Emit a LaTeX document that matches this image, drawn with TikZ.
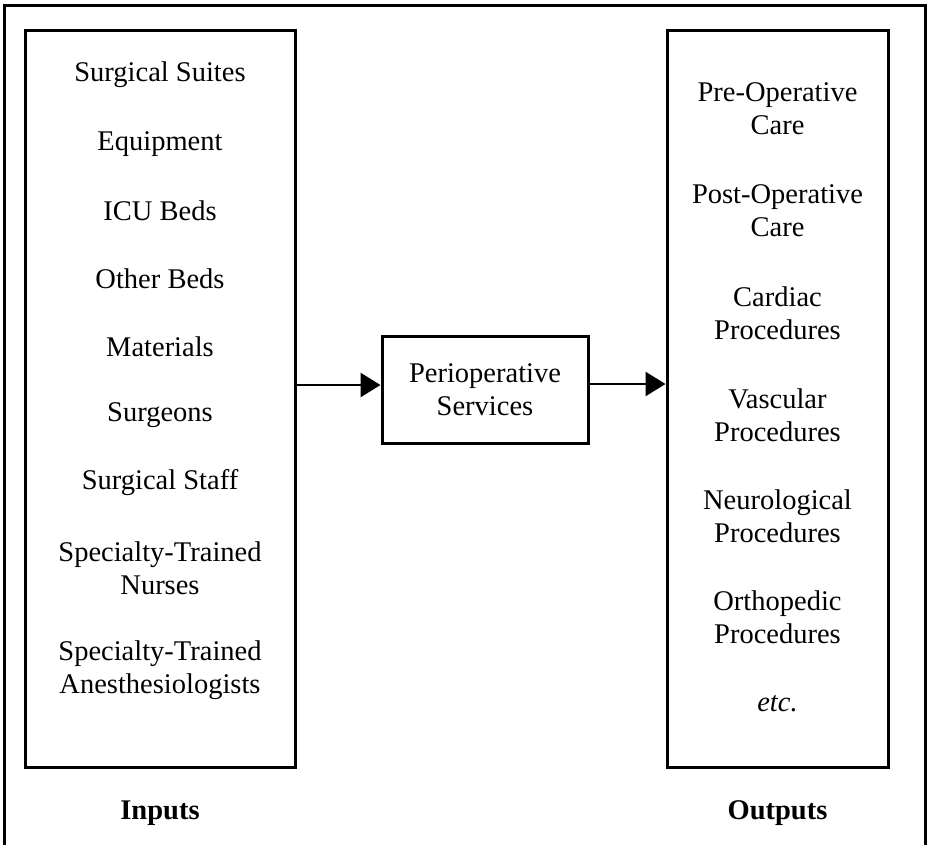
\documentclass[tikz,border=0pt]{standalone}
\usepackage{fontspec}
\setmainfont{Liberation Serif}
\usetikzlibrary{arrows.meta}
\begin{document}
\begin{tikzpicture}[x=1pt,y=-1pt,
  frame/.style={draw,line width=3pt},
  panel/.style={draw,line width=3pt,inner sep=0pt,minimum width=#1,minimum height=737pt},
  item/.style={align=center,inner sep=0pt,font=\fontsize{28.5}{33}\selectfont},
  heading/.style={inner sep=0pt,font=\fontsize{28.5}{33}\selectfont\bfseries},
  flow/.style={line width=2.6pt,-{Triangle[length=20pt,width=24pt]}}]
\useasboundingbox (0,0) rectangle (928,844);
% outer frame (runs off the lower edge)
\draw[frame] (4,850) -- (4,5) -- (925,5) -- (925,850);

% input and output panels
\node[panel=270pt] (inbox) at (160,398.5) {};
\node[panel=221pt] (outbox) at (777.5,398.5) {};

% central process
\node[draw,line width=3pt,minimum width=206pt,minimum height=107pt,inner sep=0pt,
      align=center,font=\fontsize{28.5}{33}\selectfont] (mid) at (485,390)
      {Perioperative\\Services};

% inputs
\node[item] (i1) at (160,75)  {Surgical Suites};
\node[item] (i2) at (160,144) {Equipment};
\node[item] (i3) at (160,211) {ICU Beds};
\node[item] (i4) at (160,279) {Other Beds};
\node[item] (i5) at (160,347) {Materials};
\node[item] (i6) at (160,415) {Surgeons};
\node[item] (i7) at (160,483) {Surgical Staff};
\node[item] (i8) at (160,568) {Specialty-Trained\\Nurses};
\node[item] (i9) at (160,670) {Specialty-Trained\\Anesthesiologists};

% outputs
\node[item] (o1) at (777.5,109) {Pre-Operative\\Care};
\node[item] (o2) at (777.5,211) {Post-Operative\\Care};
\node[item] (o3) at (777.5,313) {Cardiac\\Procedures};
\node[item] (o4) at (777.5,415) {Vascular\\Procedures};
\node[item] (o5) at (777.5,516) {Neurological\\Procedures};
\node[item] (o6) at (777.5,617) {Orthopedic\\Procedures};
\node[item] (o7) at (777.5,704) {\itshape etc.};

% captions
\node[heading] (hin) at (160,813) {Inputs};
\node[heading] (hout) at (777.5,813) {Outputs};

% flow arrows
\draw[flow] (inbox.east |- 0,385) -- (mid.west |- 0,385);
\draw[flow] (mid.east |- 0,384) -- (outbox.west |- 0,384);
\end{tikzpicture}
\end{document}
